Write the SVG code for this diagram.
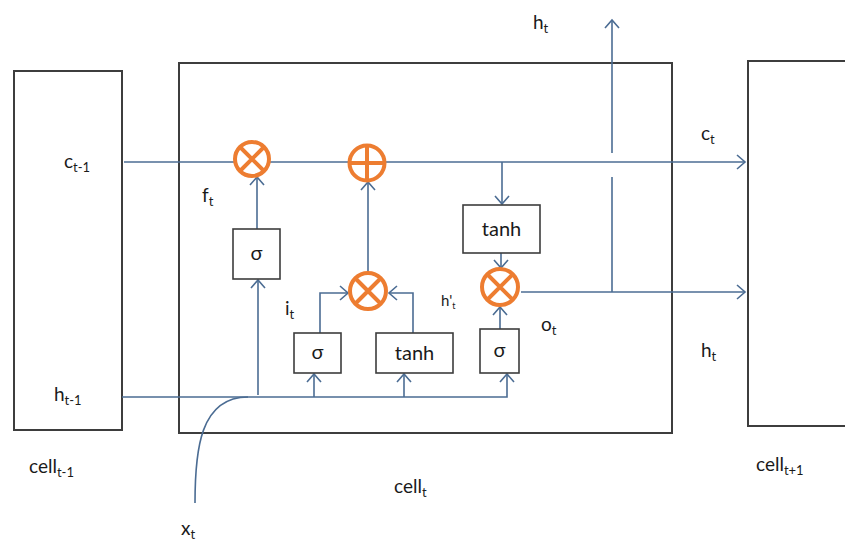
<svg xmlns="http://www.w3.org/2000/svg" width="845" height="541" viewBox="0 0 845 541">
<style>
.cell{fill:none;stroke:#3d3d3d;stroke-width:2}
.box{fill:#fff;stroke:#3d3d3d;stroke-width:1.6}
.con{fill:none;stroke:#4b6c93;stroke-width:1.6}
.op{fill:#fff;stroke:#ed7d31;stroke-width:4}
.opl{stroke:#ed7d31;stroke-width:4}
text{font-family:Lato,"Open Sans","Liberation Sans",sans-serif;fill:#1a1a1a}
.lb{font-size:19px}
.sub{font-size:13px}
.fn{font-size:20px;text-anchor:middle}
</style>
<defs>
<marker id="arr" markerUnits="userSpaceOnUse" markerWidth="14" markerHeight="16" refX="10" refY="8" orient="auto">
<path d="M2,1 L10,8 L2,15" fill="none" stroke="#4b6c93" stroke-width="1.6"/>
</marker>
</defs>
<rect width="845" height="541" fill="#fff"/>

<g id="cell_prev"><rect class="cell" x="14" y="71" width="108" height="359"/></g>
<g id="cell_cur"><rect class="cell" x="179" y="63" width="493" height="370"/></g>
<g id="cell_next"><rect class="cell" x="748" y="61" width="110" height="365"/></g>

<g id="connectors">
<path class="con" d="M124,162 L745,162" marker-end="url(#arr)"/>
<path class="con" d="M122,397 L507,397 L507,374" marker-end="url(#arr)"/>
<path class="con" d="M314,397 L314,374" marker-end="url(#arr)"/>
<path class="con" d="M404,397 L404,374" marker-end="url(#arr)"/>
<path class="con" d="M258,395 L258,280" marker-end="url(#arr)"/>
<path class="con" d="M257,229 L257,177" marker-end="url(#arr)"/>
<path class="con" d="M320,333 L320,293 L348,293" marker-end="url(#arr)"/>
<path class="con" d="M413,333 L413,293 L389,293" marker-end="url(#arr)"/>
<path class="con" d="M368,272 L368,182" marker-end="url(#arr)"/>
<path class="con" d="M502,162 L502,204" marker-end="url(#arr)"/>
<path class="con" d="M501,253 L501,268" marker-end="url(#arr)"/>
<path class="con" d="M500,329 L500,307" marker-end="url(#arr)"/>
<path class="con" d="M521,292 L745,292" marker-end="url(#arr)"/>
<path class="con" d="M612,292 L612,177"/>
<path class="con" d="M612,153 L612,20" marker-end="url(#arr)"/>
<path class="con" d="M195,503 C195,450 200,397 248,397"/>
</g>

<g id="mul_f"><circle class="op" cx="252" cy="159" r="17"/><path class="opl" d="M240,147 L264,171 M264,147 L240,171"/></g>
<g id="add_c"><circle class="op" cx="367" cy="163" r="17.5"/><path class="opl" d="M349.5,163 L384.5,163 M367,145.5 L367,180.5"/></g>
<g id="mul_i"><circle class="op" cx="368" cy="291" r="18"/><path class="opl" d="M355,278 L381,304 M381,278 L355,304"/></g>
<g id="mul_o"><circle class="op" cx="500" cy="287" r="18"/><path class="opl" d="M487,274 L513,300 M513,274 L487,300"/></g>

<g id="sigma_f"><rect class="box" x="233" y="229" width="47" height="50"/><text class="fn" x="256.5" y="260">σ</text></g>
<g id="sigma_i"><rect class="box" x="294" y="333" width="47" height="40"/><text class="fn" x="317.5" y="359">σ</text></g>
<g id="tanh_g"><rect class="box" x="376" y="333" width="77" height="40"/><text class="fn" x="414.5" y="360">tanh</text></g>
<g id="sigma_o"><rect class="box" x="480" y="329" width="39" height="44"/><text class="fn" x="499.5" y="357">σ</text></g>
<g id="tanh_c"><rect class="box" x="463" y="205" width="77" height="48"/><text class="fn" x="501.5" y="236">tanh</text></g>

<g id="labels">
<text class="lb" x="64" y="168">c<tspan class="sub" dy="4">t-1</tspan></text>
<text class="lb" x="202" y="202">f<tspan class="sub" dy="4">t</tspan></text>
<text class="lb" x="54" y="401">h<tspan class="sub" dy="4">t-1</tspan></text>
<text class="lb" x="29" y="473">cell<tspan class="sub" dy="4">t-1</tspan></text>
<text class="lb" x="394" y="493">cell<tspan class="sub" dy="4">t</tspan></text>
<text class="lb" x="756" y="471">cell<tspan class="sub" dy="4">t+1</tspan></text>
<text class="lb" x="181" y="535">x<tspan class="sub" dy="4">t</tspan></text>
<text class="lb" x="533" y="29">h<tspan class="sub" dy="4">t</tspan></text>
<text class="lb" x="701" y="140">c<tspan class="sub" dy="4">t</tspan></text>
<text class="lb" x="701" y="357">h<tspan class="sub" dy="4">t</tspan></text>
<text class="lb" x="285" y="315">i<tspan class="sub" dy="4">t</tspan></text>
<text x="441" y="306" style="font-size:15px">h'<tspan style="font-size:9px" dy="3">t</tspan></text>
<text class="lb" x="541" y="331">o<tspan class="sub" dy="4">t</tspan></text>
</g>
</svg>
